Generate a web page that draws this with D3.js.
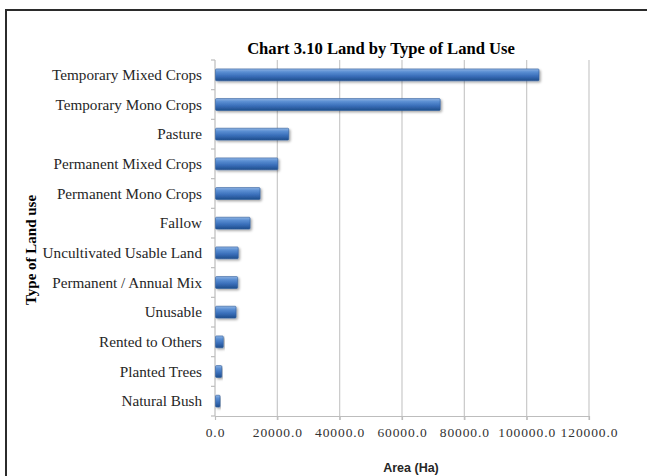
<!DOCTYPE html>
<html>
<head>
<meta charset="utf-8">
<script src="https://cdn.jsdelivr.net/npm/d3@7"></script>
<style>
  body { margin: 0; background: #fff; }
  svg { display: block; }
</style>
</head>
<body>
<div id="chart"></div>
<script>
// land use categories, top to bottom
const categories = [
  "Temporary Mixed Crops",
  "Temporary Mono Crops",
  "Pasture",
  "Permanent Mixed Crops",
  "Permanent Mono Crops",
  "Fallow",
  "Uncultivated Usable Land",
  "Permanent / Annual Mix",
  "Unusable",
  "Rented to Others",
  "Planted Trees",
  "Natural Bush"
]

// area in hectares
const areas = [103800, 72100, 23500, 20000, 14300, 11100, 7300, 7100, 6600, 2500, 2000, 1450]

const xTicks = [0, 20000, 40000, 60000, 80000, 100000, 120000]

const title = "Chart 3.10 Land by Type of Land Use"
const yTitle = "Type of Land use"
const xTitle = "Area (Ha)"

let width = 647
let height = 476

let margin = {top: 60, right: 58, bottom: 60, left: 215}

let svg = d3.select("#chart").append("svg")
  .attr("width", width)
  .attr("height", height)

let defs = svg.append("defs")

let grad = defs.append("linearGradient")
  .attr("id", "barFill")
  .attr("x1", 0).attr("y1", 0).attr("x2", 0).attr("y2", 1)
grad.append("stop").attr("offset", "0%").attr("stop-color", "#8fb4e3")
grad.append("stop").attr("offset", "25%").attr("stop-color", "#5b8fd3")
grad.append("stop").attr("offset", "60%").attr("stop-color", "#3a6fba")
grad.append("stop").attr("offset", "100%").attr("stop-color", "#1f4d8c")

let shadow = defs.append("filter").attr("id", "shadow")
  .attr("x", "-10%").attr("y", "-30%").attr("width", "130%").attr("height", "180%")
shadow.append("feDropShadow")
  .attr("dx", 1.5).attr("dy", 1.5).attr("stdDeviation", 1.2)
  .attr("flood-color", "#000").attr("flood-opacity", 0.35)

// outer frame
svg.append("rect")
  .attr("x", 6).attr("y", 10)
  .attr("width", width + 10).attr("height", height + 10)
  .attr("fill", "none")
  .attr("stroke", "#2b2b2b")
  .attr("stroke-width", 2)

let x = d3.scaleLinear()
  .domain([0, 120000])
  .range([margin.left, width - margin.right])

let y = d3.scaleBand()
  .domain(categories)
  .range([margin.top, height - margin.bottom])
  .paddingInner(0.6)
  .paddingOuter(0.3)

let plotBottom = height - margin.bottom

// gridlines
svg.append("g")
  .selectAll("line")
  .data(xTicks.slice(1))
  .enter()
  .append("line")
  .attr("x1", d => x(d)).attr("x2", d => x(d))
  .attr("y1", margin.top).attr("y2", plotBottom + 4)
  .attr("stroke", "#c9c9c9")
  .attr("stroke-width", 1.2)

// x axis
let xAxis = svg.append("g")
  .attr("transform", `translate(0,${plotBottom})`)
  .call(d3.axisBottom(x).tickValues(xTicks).tickFormat(d3.format(".1f")).tickSize(4).tickSizeOuter(0))
xAxis.select(".domain").attr("stroke", "#bdbdbd").attr("stroke-width", 1.2)
xAxis.selectAll(".tick line").attr("stroke", "#bdbdbd").attr("stroke-width", 1.2)
xAxis.selectAll("text")
  .attr("dy", "1.0em")
  .style("font-family", "'Liberation Serif', 'Times New Roman', serif")
  .style("font-size", "13.5px")
  .style("letter-spacing", "0.9px")
  .attr("fill", "#333")

// y axis: tick marks at band boundaries
let yAxis = svg.append("g")
  .attr("transform", `translate(${margin.left},0)`)
yAxis.append("line")
  .attr("x1", 0).attr("x2", 0)
  .attr("y1", margin.top).attr("y2", plotBottom)
  .attr("stroke", "#bdbdbd").attr("stroke-width", 1.2)
yAxis.selectAll(".bt")
  .data(d3.range(categories.length + 1))
  .enter()
  .append("line")
  .attr("class", "bt")
  .attr("x1", -4).attr("x2", 0)
  .attr("y1", i => margin.top + i * (plotBottom - margin.top) / categories.length)
  .attr("y2", i => margin.top + i * (plotBottom - margin.top) / categories.length)
  .attr("stroke", "#bdbdbd").attr("stroke-width", 1.2)

yAxis.selectAll(".lbl")
  .data(categories)
  .enter()
  .append("text")
  .attr("class", "lbl")
  .attr("x", -13)
  .attr("y", d => y(d) + y.bandwidth() / 2)
  .attr("dy", "0.35em")
  .attr("text-anchor", "end")
  .style("font-family", "'Liberation Serif', 'Times New Roman', serif")
  .style("font-size", "15.2px")
  .attr("fill", "#262626")
  .text(d => d)

// bars
svg.append("g")
  .selectAll("rect")
  .data(categories)
  .enter()
  .append("rect")
  .attr("x", x(0) + 0.5)
  .attr("y", d => y(d))
  .attr("width", (d, i) => x(areas[i]) - x(0))
  .attr("height", y.bandwidth())
  .attr("rx", 1)
  .attr("fill", "url(#barFill)")
  .attr("stroke", "#2f5d9a")
  .attr("stroke-width", 0.6)
  .attr("filter", "url(#shadow)")

// titles
svg.append("text")
  .attr("x", 381)
  .attr("y", 54)
  .attr("text-anchor", "middle")
  .style("font-family", "'Liberation Serif', 'Times New Roman', serif")
  .style("font-size", "16.6px")
  .style("font-weight", "bold")
  .attr("fill", "#000")
  .text(title)

svg.append("text")
  .attr("transform", `translate(36,250) rotate(-90)`)
  .attr("text-anchor", "middle")
  .style("font-family", "'Liberation Serif', 'Times New Roman', serif")
  .style("font-size", "15px")
  .style("font-weight", "bold")
  .attr("fill", "#000")
  .text(yTitle)

svg.append("text")
  .attr("x", 411)
  .attr("y", 472)
  .attr("text-anchor", "middle")
  .style("font-family", "'Liberation Sans', Arial, sans-serif")
  .style("font-size", "12.5px")
  .style("font-weight", "bold")
  .attr("fill", "#262626")
  .text(xTitle)
</script>
</body>
</html>
